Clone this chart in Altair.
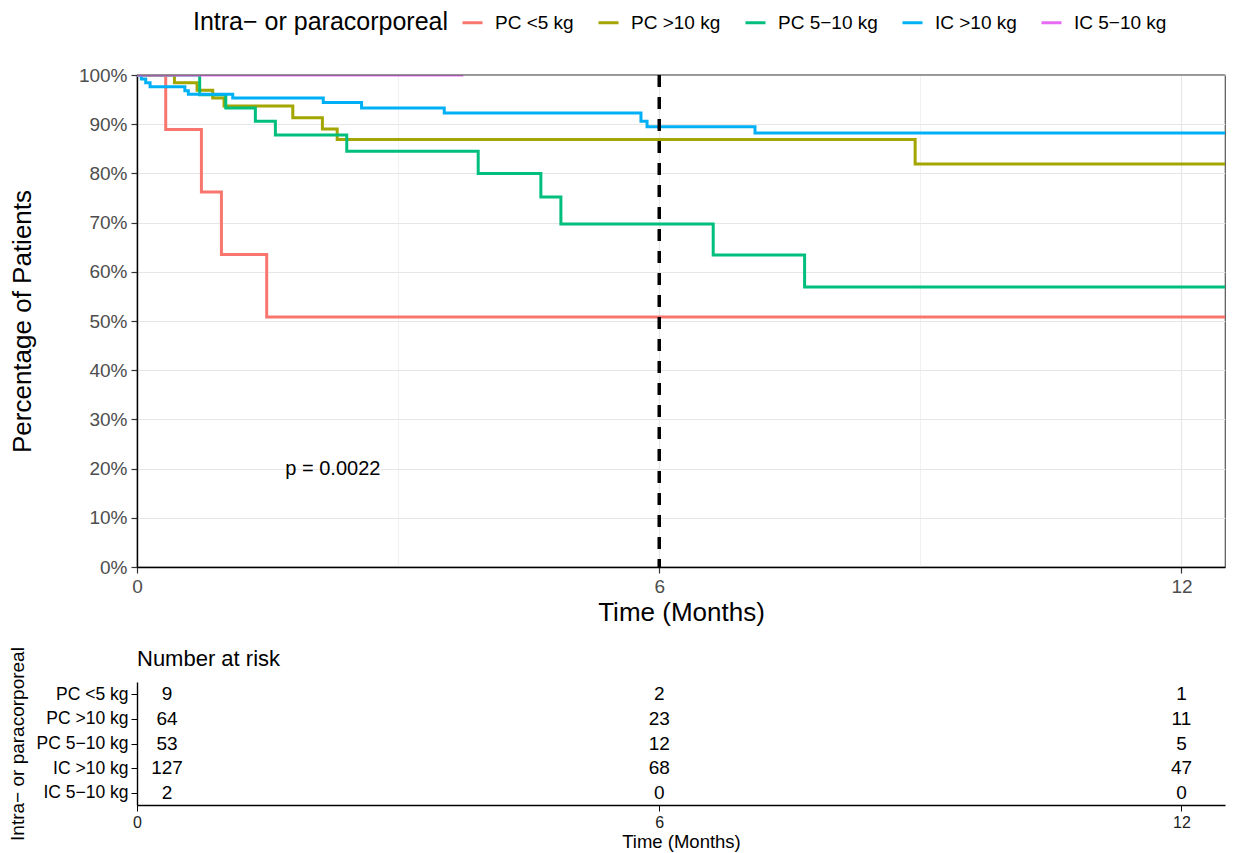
import altair as alt
import pandas as pd

# ---- data ----
groups = ["PC <5 kg", "PC >10 kg", "PC 5−10 kg", "IC >10 kg", "IC 5−10 kg"]
colors = ["#F8766D", "#A3A500", "#00BF7D", "#00B0F6", "#E76BF3"]

pc_lt5_time = [0, 0.33, 0.74, 0.97, 1.49, 12.5]
pc_lt5_surv = [1.0, 0.889, 0.762, 0.635, 0.508, 0.508]

pc_gt10_time = [0, 0.43, 0.69, 0.87, 1.0, 1.79, 2.13, 2.30, 8.94, 12.5]
pc_gt10_surv = [1.0, 0.984, 0.969, 0.953, 0.937, 0.913, 0.890, 0.869, 0.819, 0.819]

pc_5_10_time = [0, 0.72, 1.02, 1.36, 1.59, 2.41, 3.92, 4.64, 4.87, 6.62, 7.67, 12.5]
pc_5_10_surv = [1.0, 0.960, 0.933, 0.906, 0.878, 0.845, 0.800, 0.752, 0.697, 0.634, 0.569, 0.569]

ic_gt10_time = [0, 0.05, 0.10, 0.15, 0.55, 0.59, 1.10, 2.14, 2.58, 3.53, 5.79, 5.86, 7.10, 12.5]
ic_gt10_surv = [1.0, 0.992, 0.984, 0.976, 0.968, 0.961, 0.953, 0.944, 0.933, 0.923, 0.906, 0.895, 0.882, 0.882]

ic_5_10_time = [0, 3.75]
ic_5_10_surv = [1.0, 1.0]

landmark_time = [6]
pval_text = ["p = 0.0022"]
pval_time = [2.25]
pval_surv = [0.20]

risk_times = [0, 6, 12]
risk_pc_lt5 = [9, 2, 1]
risk_pc_gt10 = [64, 23, 11]
risk_pc_5_10 = [53, 12, 5]
risk_ic_gt10 = [127, 68, 47]
risk_ic_5_10 = [2, 0, 0]

# ---- tables ----
series = [
    (groups[0], pc_lt5_time, pc_lt5_surv),
    (groups[1], pc_gt10_time, pc_gt10_surv),
    (groups[2], pc_5_10_time, pc_5_10_surv),
    (groups[3], ic_gt10_time, ic_gt10_surv),
    (groups[4], ic_5_10_time, ic_5_10_surv),
]
surv_df = pd.concat(
    [pd.DataFrame({"group": g, "time": t, "surv": s}) for g, t, s in series],
    ignore_index=True,
)
risk_series = [risk_pc_lt5, risk_pc_gt10, risk_pc_5_10, risk_ic_gt10, risk_ic_5_10]
risk_df = pd.concat(
    [pd.DataFrame({"group": g, "time": risk_times, "n": r}) for g, r in zip(groups, risk_series)],
    ignore_index=True,
)
rule_df = pd.DataFrame({"time": landmark_time})
p_df = pd.DataFrame({"time": pval_time, "surv": pval_surv, "label": pval_text})

FONT = "Liberation Sans"
xscale = alt.Scale(domain=[0, 12.5], nice=False, zero=False)
yscale = alt.Scale(domain=[0, 1], nice=False)

x_axis_main = alt.Axis(
    values=[0, 3, 6, 9, 12],
    format="d",
    labelExpr="datum.value % 6 == 0 ? datum.label : ''",
    tickOpacity={"condition": {"test": "datum.value % 6 == 0", "value": 1}, "value": 0},
    gridColor={"condition": {"test": "datum.value % 6 == 0", "value": "#E6E6E6"}, "value": "#F1F1F1"},
    gridWidth=1.2,
    title="Time (Months)",
    titleFontSize=26, titleFontWeight="normal", titleColor="black", titlePadding=3,
    labelFontSize=19, labelColor="#4D4D4D", labelPadding=4, labelFlush=False,
    tickSize=6, tickColor="#333333", tickWidth=1.2,
    domainColor="black", domainWidth=1.4,
)
y_axis_main = alt.Axis(
    values=[i / 20 for i in range(21)],
    format=".0%",
    labelExpr="round(datum.value * 20) % 2 == 0 ? datum.label : ''",
    tickOpacity={"condition": {"test": "round(datum.value * 20) % 2 == 0", "value": 1}, "value": 0},
    gridColor={"condition": {"test": "round(datum.value * 20) % 2 == 0", "value": "#E6E6E6"}, "value": "#F1F1F1"},
    gridWidth=1.2,
    title="Percentage of Patients",
    titleFontSize=26, titleFontWeight="normal", titleColor="black", titlePadding=43,
    labelFontSize=19, labelColor="#4D4D4D", labelPadding=4, labelFlush=False,
    tickSize=6, tickColor="#333333", tickWidth=1.2,
    domainColor="black", domainWidth=1.4,
)

legend = alt.Legend(
    orient="none", legendX=56, legendY=-64, direction="horizontal",
    title="Intra− or paracorporeal", titleOrient="left", titleFontSize=25,
    titleFontWeight="normal", titleColor="black", titlePadding=12, titleLimit=500,
    labelFontSize=19, labelColor="black", labelOffset=11, labelLimit=300,
    symbolType="stroke", symbolSize=400, symbolStrokeWidth=3,
    columnPadding=18,
)

lines = alt.Chart(surv_df).mark_line(interpolate="step-after", strokeWidth=3, clip=True).encode(
    x=alt.X("time:Q", scale=xscale, axis=x_axis_main),
    y=alt.Y("surv:Q", scale=yscale, axis=y_axis_main),
    color=alt.Color("group:N", sort=groups,
                    scale=alt.Scale(domain=groups, range=colors), legend=legend),
)
top_border = alt.Chart(rule_df).mark_rule(color="#555555", strokeWidth=1.2).encode(
    x=alt.value(0), x2=alt.value(1088), y=alt.value(0)
)
rule = alt.Chart(rule_df).mark_rule(color="black", strokeWidth=3.5, strokeDash=[12, 10]).encode(
    x=alt.X("time:Q", scale=xscale)
)
ptext = alt.Chart(p_df).mark_text(fontSize=20, color="black", font=FONT).encode(
    x=alt.X("time:Q", scale=xscale),
    y=alt.Y("surv:Q", scale=yscale),
    text="label:N",
)
main = alt.layer(lines, top_border, rule, ptext).properties(
    width=1088, height=492,
    view=alt.ViewBackground(stroke="#555555", strokeWidth=1.2),
)

# ---- risk table ----
x_axis_tab = alt.Axis(
    values=[0, 6, 12], grid=False, title="Time (Months)", labelFlush=False,
    titleFontSize=18.5, titleFontWeight="normal", titleColor="black", titlePadding=2,
    labelFontSize=16, labelColor="#222222", labelPadding=3,
    tickSize=6, tickColor="black", domainColor="black", domainWidth=1.4,
)
y_axis_tab = alt.Axis(
    grid=False, title="Intra− or paracorporeal",
    titleFontSize=19, titleFontWeight="normal", titleColor="black", titlePadding=9,
    labelFontSize=17.5, labelColor="black", labelPadding=3,
    tickSize=6, tickColor="black", domainColor="black", domainWidth=1.4,
)
tab_base = alt.Chart(risk_df).encode(
    x=alt.X("time:Q", scale=xscale, axis=x_axis_tab),
    y=alt.Y("group:N", sort=groups, axis=y_axis_tab),
    text="n:Q",
)
tab_first = tab_base.transform_filter("datum.time == 0").mark_text(fontSize=19, color="black", dx=30, font=FONT)
tab_rest = tab_base.transform_filter("datum.time > 0").mark_text(fontSize=19, color="black", font=FONT)
table = alt.layer(tab_first, tab_rest).properties(
    width=1088, height=123,
    view=alt.ViewBackground(strokeWidth=0),
    title=alt.TitleParams("Number at risk", anchor="start", frame="group", fontSize=22,
                          fontWeight="normal", color="black", offset=-24),
)

chart = alt.vconcat(main, table, spacing=115, bounds="flush").properties(
    padding={"left": 8, "top": 11, "right": 4, "bottom": 4}
).configure(font=FONT).configure_axis(labelFont=FONT, titleFont=FONT).configure_legend(
    labelFont=FONT, titleFont=FONT
).configure_title(font=FONT)

chart.save("out.html", embed_options={"renderer": "svg", "actions": False})
